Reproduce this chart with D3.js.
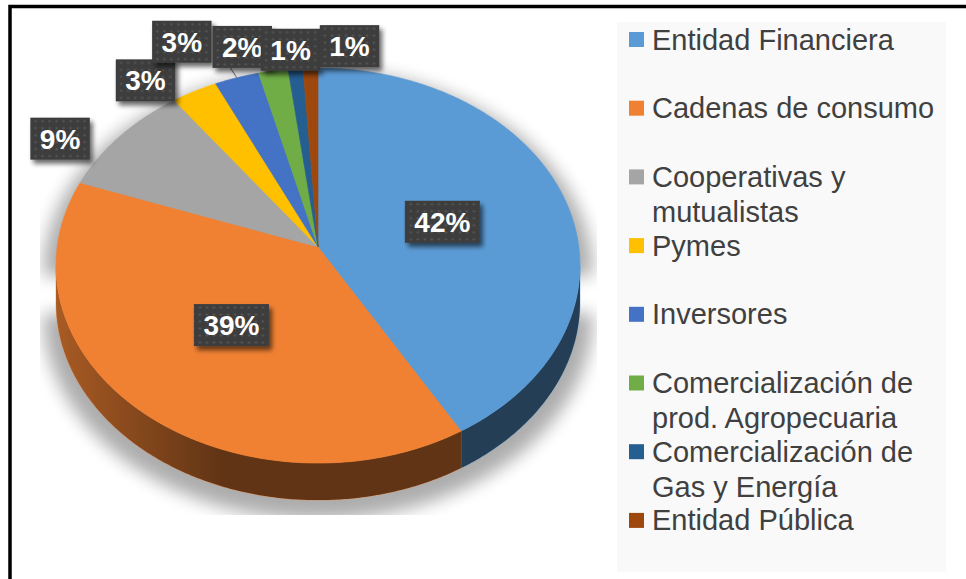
<!DOCTYPE html>
<html><head><meta charset="utf-8">
<script src="https://cdn.jsdelivr.net/npm/d3@7"></script>
<style>html,body{margin:0;padding:0;background:#fff;overflow:hidden}</style>
</head><body>
<svg id="c" width="966" height="579"></svg>
<script>
// ---- data ----
const categories = ["Entidad Financiera","Cadenas de consumo","Cooperativas y mutualistas","Pymes","Inversores","Comercialización de prod. Agropecuaria","Comercialización de Gas y Energía","Entidad Pública"];
const values = [41.6,38.9,9.4,3.1,3.0,2.0,1.0,1.0];
const valueLabels = ["42%","39%","9%","3%","3%","2%","1%","1%"];
const colors = ["#5B9BD5","#F08133","#A5A5A5","#FFC000","#4472C4","#70AD47","#255E91","#9E480E"];
// label placement: null = inside the slice, otherwise nudge from outer edge point
const labelNudge = [null,null,[-60,2.5],[-49,-11],[-55,-36],[-31,-24],[-5,-19],[39,-22]];

const svg = d3.select("#c");
const cx=318, cy=247, A=260.8, B=195.8, k=0.094, depth=37;
const font = "'Liberation Sans', Arial, sans-serif";

function proj(t, r){ const w = 1 + k*r*Math.cos(t); return [cx + A*r*Math.sin(t)/w, cy - B*r*Math.cos(t)/w]; }
function edge(a0,a1,r,dy){ const n=Math.max(2,Math.ceil((a1-a0)/(Math.PI/360))); return d3.range(n+1).map(i=>{const p=proj(a0+(a1-a0)*i/n,r);return [p[0],p[1]+(dy||0)];}); }
const line = d3.line();

const defs = svg.append("defs");
const sh = defs.append("filter").attr("id","pieShadow").attr("x","-20%").attr("y","-20%").attr("width","140%").attr("height","140%");
sh.append("feGaussianBlur").attr("stdDeviation",8);
const ls = defs.append("filter").attr("id","lblShadow").attr("x","-30%").attr("y","-30%").attr("width","160%").attr("height","160%");
ls.append("feGaussianBlur").attr("in","SourceAlpha").attr("stdDeviation",2.5).attr("result","b");
ls.append("feOffset").attr("in","b").attr("dx",3).attr("dy",4).attr("result","o");
ls.append("feComponentTransfer").attr("in","o").attr("result","o2").append("feFuncA").attr("type","linear").attr("slope",0.6);
const mg = ls.append("feMerge"); mg.append("feMergeNode").attr("in","o2"); mg.append("feMergeNode").attr("in","SourceGraphic");
const pat = defs.append("pattern").attr("id","dots").attr("width",7).attr("height",7).attr("patternUnits","userSpaceOnUse");
pat.append("rect").attr("width",7).attr("height",7).attr("fill","#3E3E3E");
pat.append("circle").attr("cx",3.5).attr("cy",3.5).attr("r",1.1).attr("fill","#5A5A5A");
const g1 = defs.append("linearGradient").attr("id","sideShade").attr("gradientUnits","userSpaceOnUse").attr("x1",cx-A).attr("x2",cx+A).attr("y1",0).attr("y2",0);
g1.append("stop").attr("offset",0).attr("stop-color","#000").attr("stop-opacity",0.3);
g1.append("stop").attr("offset",0.32).attr("stop-color","#000").attr("stop-opacity",0.6);
g1.append("stop").attr("offset",1).attr("stop-color","#000").attr("stop-opacity",0.6);
defs.append("clipPath").attr("id","plotClip").append("rect").attr("x",40).attr("y",15).attr("width",557).attr("height",500);

// legend background
svg.append("rect").attr("x",617).attr("y",22).attr("width",329).attr("height",550).attr("fill","#F9F9F9");

// pie geometry
const arcs = d3.pie().sort(null).value(d=>d).startAngle(0).endAngle(2*Math.PI)(values);
const tR = Math.acos(-k), tL = 2*Math.PI - Math.acos(-k);

// shadow
const sil = edge(tL, 2*Math.PI+tR, 1, 0).concat(edge(tR, tL, 1, depth).reverse());
svg.append("g").attr("clip-path","url(#plotClip)")
  .append("path").attr("d", line(sil)+"Z")
  .attr("transform",`translate(${cx},${cy+depth/2+10}) scale(1.05,1.04) translate(${-cx},${-(cy+depth/2)})`)
  .attr("fill","#000").attr("opacity",0.32).attr("filter","url(#pieShadow)");

// sides
const sideG = svg.append("g");
arcs.forEach((a,i)=>{
  const s0=Math.max(a.startAngle,tR), s1=Math.min(a.endAngle,tL);
  if(s0>=s1) return;
  const pts = edge(s0,s1,1,0).concat(edge(s0,s1,1,depth).reverse());
  const d = line(pts)+"Z";
  sideG.append("path").attr("d",d).attr("fill",colors[i]).attr("stroke",colors[i]).attr("stroke-width",0.5);
  sideG.append("path").attr("d",d).attr("fill","url(#sideShade)");
});

// top face
const faceG = svg.append("g");
arcs.forEach((a,i)=>{
  const pts = [[cx,cy]].concat(edge(a.startAngle,a.endAngle,1,0));
  faceG.append("path").attr("d",line(pts)+"Z").attr("fill",colors[i]).attr("stroke",colors[i]).attr("stroke-width",0.6).attr("stroke-linejoin","round");
});

// leader line (Inversores)
{ const a=arcs[4], mid=(a.startAngle+a.endAngle)/2, p=proj(mid,1);
  svg.append("line").attr("x1",p[0]).attr("y1",p[1]).attr("x2",p[0]-6.5).attr("y2",p[1]-10).attr("stroke","#7F7F7F").attr("stroke-width",1.2); }

// labels
const lblG = svg.append("g");
arcs.forEach((a,i)=>{
  const mid=(a.startAngle+a.endAngle)/2;
  let p;
  if(labelNudge[i]===null){ p=proj(mid,0.5); } else { const e=proj(mid,1); p=[e[0]+labelNudge[i][0], e[1]+labelNudge[i][1]]; }
  const g = lblG.append("g").attr("transform",`translate(${p[0]},${p[1]})`);
  const r = g.append("rect").attr("fill","url(#dots)").attr("filter","url(#lblShadow)");
  const t = g.append("text").text(valueLabels[i]).attr("text-anchor","middle").attr("dy","0.36em")
    .attr("font-family",font).attr("font-weight","bold").attr("font-size",28).attr("fill","#fff");
  const w = t.node().getComputedTextLength()+19, h=42;
  r.attr("x",-w/2).attr("y",-h/2).attr("width",w).attr("height",h);
});

// legend
const leg = svg.append("g");
const legTop=32, legStep=68.7, lineH=35, maxW=292;
categories.forEach((c,i)=>{
  const y0 = legTop + i*legStep;
  leg.append("rect").attr("x",629).attr("y",y0).attr("width",15).attr("height",15).attr("fill",colors[i]);
  const t = leg.append("text").attr("x",652).attr("y",y0+17.5).attr("font-family",font).attr("font-size",29).attr("fill","#404040");
  const words=c.split(" "); let lineWords=[];
  let ts = t.append("tspan").attr("x",652).attr("dy",0);
  words.forEach(wd=>{
    lineWords.push(wd); ts.text(lineWords.join(" "));
    if(ts.node().getComputedTextLength()>maxW && lineWords.length>1){
      lineWords.pop(); ts.text(lineWords.join(" ")); lineWords=[wd];
      ts = t.append("tspan").attr("x",652).attr("dy",lineH).text(wd);
    }
  });
});

// frame
svg.append("rect").attr("x",10).attr("y",6.5).attr("width",1200).attr("height",1200).attr("fill","none").attr("stroke","#000").attr("stroke-width",3.5);
</script>
</body></html>
